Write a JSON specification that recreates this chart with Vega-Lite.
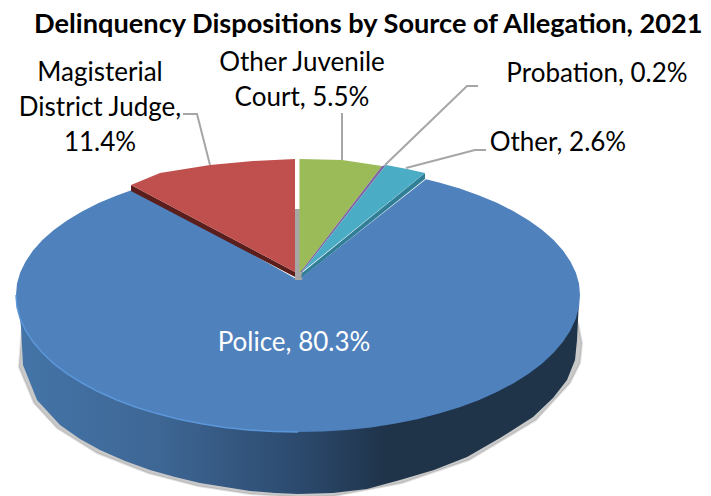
{
"$schema":"https://vega.github.io/schema/vega-lite/v6.json",
"width":711,"height":496,"padding":0,"autosize":"none",
"background":"white",
"title":{"text":"Delinquency Dispositions by Source of Allegation, 2021","anchor":"start","frame":"group","dx":34,"dy":60,"offset":0,"baseline":"alphabetic","font":"Lato","fontSize":27.2,"fontWeight":"bold","color":"#000000"},
"projection":{"type":"identity","reflectY":true,"scale":2,"translate":[298,295]},
"view":{"stroke":null},
"resolve":{"scale":{"color":"independent"}},
"layer":[
{"data":{"values":[{"type":"Feature","properties":{"part":"shadow"},"geometry":{"type":"Polygon","coordinates":[[[-138,-16],[-139.5,-36],[-132,-54],[-120.5,-66.5],[-100.5,-79],[-75,-89],[-50,-95.5],[-24,-99.5],[0,-101],[18,-100.5],[52,-94],[85.5,-82.5],[119,-62.5],[136,-44],[141,-34],[142,-24],[140,-14],[0,-5]]]}}]},
"mark":{"type":"geoshape","fill":"#777777","fillOpacity":0.4,"stroke":"#999999","strokeWidth":2,"strokeOpacity":0.3},"encoding":{}},
{"data":{"values":[{"type":"Feature","properties":{"part":"wall"},"geometry":{"type":"Polygon","coordinates":[[[-140.5,0],[-140,-4],[-138.5,-16],[-137.5,-35],[-130.5,-52.5],[-119,-65],[-109,-72],[-99,-77.5],[-86.5,-83],[-74,-87.5],[-61.5,-91],[-49,-94],[-36.5,-96],[-24,-98],[-11.5,-99],[0,-99.5],[17.5,-99],[34.5,-97],[51,-92.5],[68,-87.5],[84.5,-81],[101,-71.5],[117.5,-61],[127.5,-51.5],[134.5,-42.5],[138.5,-32.5],[139.5,-22.5],[140.5,-2.5],[0,0]]]}}]},
"mark":{"type":"geoshape","stroke":null,"fill":{"gradient":"linear","x1":0,"y1":0,"x2":1,"y2":0,"stops":[{"offset":0,"color":"#4474A8"},{"offset":0.25,"color":"#3E6795"},{"offset":0.5,"color":"#2C4A6E"},{"offset":0.66,"color":"#1F3349"},{"offset":1,"color":"#1F3349"}]}},"encoding":{}},
{"data":{"values":[{"type":"Feature","properties":{"source":"Police","share":80.3},"geometry":{"type":"Polygon","coordinates":[[[0,7.5],[-80.9,53.2],[-90.6,49.8],[-99.7,46],[-108,41.8],[-115.5,37.3],[-122.1,32.5],[-127.8,27.5],[-132.5,22.2],[-136.2,16.8],[-138.9,11.3],[-140.5,5.7],[-141,0],[-140.5,-6],[-138.9,-11.9],[-136.2,-17.7],[-132.5,-23.4],[-127.8,-28.9],[-122.1,-34.3],[-115.5,-39.3],[-108,-44],[-99.7,-48.4],[-90.6,-52.5],[-80.9,-56.1],[-70.5,-59.3],[-59.6,-62.1],[-48.2,-64.4],[-36.5,-66.2],[-24.5,-67.5],[-12.3,-68.2],[0,-68.5],[12.3,-68.2],[24.5,-67.5],[36.5,-66.2],[48.2,-64.4],[59.6,-62.1],[70.5,-59.3],[80.9,-56.1],[90.6,-52.5],[99.7,-48.4],[108,-44],[115.5,-39.3],[122.1,-34.3],[127.8,-28.9],[132.5,-23.4],[136.2,-17.7],[138.9,-11.9],[140.5,-6],[141,0],[140.5,5.7],[138.9,11.3],[136.2,16.8],[132.5,22.2],[127.8,27.5],[122.1,32.5],[115.5,37.3],[108,41.8],[99.7,46],[90.6,49.8],[80.9,53.2],[70.5,56.3],[64,57.9],[0,7.5]]]}}]},
"mark":{"type":"geoshape","stroke":null,"fill":"#4F81BD"},"encoding":{}},
{"data":{"values":[{"type":"Feature","properties":{"part":"rim"},"geometry":{"type":"LineString","coordinates":[[-141,0],[-140.5,-6],[-138.9,-11.9],[-136.2,-17.7],[-132.5,-23.4],[-127.8,-28.9],[-122.1,-34.3],[-115.5,-39.3],[-108,-44],[-99.7,-48.4],[-90.6,-52.5],[-80.9,-56.1],[-70.5,-59.3],[-59.6,-62.1],[-48.2,-64.4],[-36.5,-66.2],[-24.5,-67.5],[-12.3,-68.2],[0,-68.5]]}}]},
"mark":{"type":"geoshape","filled":false,"strokeWidth":1.5,"stroke":"#5C97DA"},"encoding":{}},
{"data":{"values":[{"type":"Feature","properties":{"part":"centre"},"geometry":{"type":"Polygon","coordinates":[[[-1.5,43],[1.25,43],[1.25,15],[2.5,11],[2,7.5],[-1.5,7.5],[-1.5,43]]]}}]},
"mark":{"type":"geoshape","stroke":null,"fill":"#A6A6A6"},"encoding":{}},
{"data":{"values":[{"type":"Feature","properties":{"part":"red side"},"geometry":{"type":"Polygon","coordinates":[[[-83.5,55],[-83.5,52],[-1.5,9],[-1.5,11.5],[-83.5,55]]]}}]},
"mark":{"type":"geoshape","stroke":null,"fill":"#5A1E1C"},"encoding":{}},
{"data":{"values":[{"type":"Feature","properties":{"part":"teal side"},"geometry":{"type":"Polygon","coordinates":[[[63.5,61],[63.5,58],[1.5,8.5],[2,11],[63.5,61]]]}}]},
"mark":{"type":"geoshape","stroke":null,"fill":"#307F96"},"encoding":{}},
{"data":{"values":[
{"type":"Feature","properties":{"source":"Magisterial District Judge","share":11.4},"geometry":{"type":"Polygon","coordinates":[[[-1.5,11.5],[-83.5,55],[-69,61],[-44,65],[-22.5,67],[-1.5,68],[-1.5,11.5]]]}},
{"type":"Feature","properties":{"source":"Other Juvenile Court","share":5.5},"geometry":{"type":"Polygon","coordinates":[[[0.75,11.5],[0.75,68],[22,67.5],[42,64.5],[1.25,11.5],[0.75,11.5]]]}},
{"type":"Feature","properties":{"source":"Probation","share":0.2},"geometry":{"type":"Polygon","coordinates":[[[1.25,11.5],[42,64.5],[44,65],[2,11.5],[1.25,11.5]]]}},
{"type":"Feature","properties":{"source":"Other","share":2.6},"geometry":{"type":"Polygon","coordinates":[[[2,11.5],[44,65],[54.5,63],[63.5,61],[2,11.5]]]}}
]},
"mark":{"type":"geoshape","stroke":null},
"encoding":{"color":{"field":"properties.source","type":"nominal","legend":null,"scale":{"domain":["Magisterial District Judge","Other Juvenile Court","Probation","Other"],"range":["#C0504D","#9BBB59","#8064A2","#4BACC6"]}}}},
{"data":{"values":[
{"type":"Feature","properties":{"source":"Magisterial District Judge"},"geometry":{"type":"LineString","coordinates":[[-57.5,90.5],[-50.5,90.5],[-44,65]]}},
{"type":"Feature","properties":{"source":"Other Juvenile Court"},"geometry":{"type":"LineString","coordinates":[[22,91],[22,67.5]]}},
{"type":"Feature","properties":{"source":"Probation"},"geometry":{"type":"LineString","coordinates":[[90,104.5],[84.5,104.5],[43.5,65]]}},
{"type":"Feature","properties":{"source":"Other"},"geometry":{"type":"LineString","coordinates":[[94,72.5],[88.5,72.5],[54,63.5]]}}
]},
"mark":{"type":"geoshape","filled":false,"stroke":"#A6A6A6","strokeWidth":2},"encoding":{}},
{"data":{"values":[
{"source":"Magisterial District Judge","share":11.4,"label":"Magisterial\nDistrict Judge,\n11.4%","lon":-99,"lat":111},
{"source":"Other Juvenile Court","share":5.5,"label":"Other Juvenile\nCourt, 5.5%","lon":2,"lat":116},
{"source":"Probation","share":0.2,"label":"Probation, 0.2%","lon":149.5,"lat":110.5},
{"source":"Other","share":2.6,"label":"Other, 2.6%","lon":130,"lat":76},
{"source":"Police","share":80.3,"label":"Police, 80.3%","lon":-2,"lat":-24}
]},
"mark":{"type":"text","font":"Lato","fontSize":26,"lineBreak":"\n","lineHeight":35,"align":"center","baseline":"middle"},
"encoding":{"longitude":{"field":"lon","type":"quantitative"},"latitude":{"field":"lat","type":"quantitative"},"text":{"field":"label","type":"nominal"},"color":{"field":"source","type":"nominal","legend":null,"scale":{"domain":["Police","Magisterial District Judge","Other Juvenile Court","Probation","Other"],"range":["#FFFFFF","#000000","#000000","#000000","#000000"]}}}}
]
}
